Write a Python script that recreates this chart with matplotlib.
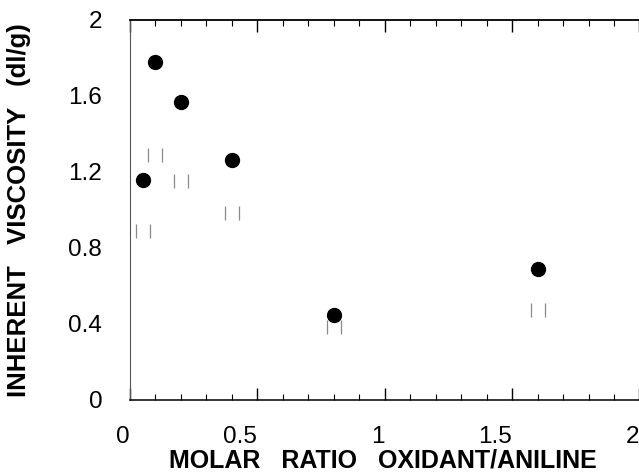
import matplotlib
matplotlib.use("Agg")
import matplotlib.pyplot as plt
from matplotlib.path import Path

plt.rcParams['font.family'] = ['Liberation Sans', 'DejaVu Sans']

# Data
ratio_circles = [0.05, 0.10, 0.20, 0.40, 0.80, 1.60]
visc_circles = [1.16, 1.78, 1.57, 1.265, 0.45, 0.69]

ratio_squares = [0.05, 0.10, 0.20, 0.40, 0.80, 1.60]
visc_squares = [0.89, 1.29, 1.155, 0.985, 0.385, 0.475]

x_ticks = [0, 0.5, 1, 1.5, 2]
x_ticklabels = ['0', '0.5', '1', '1.5', '2']
y_ticks = [0, 0.4, 0.8, 1.2, 1.6, 2]
y_ticklabels = ['0', '0.4', '0.8', '1.2', '1.6', '2']

W, H = 639, 472
fig = plt.figure(figsize=(W / 100, H / 100), dpi=100)
ax = fig.add_axes([130 / W, 72 / H, 509.5 / W, 380 / H])

# open square drawn as two faint vertical sides (as in the scanned figure)
sq_path = Path([(-1, -1), (-1, 1), (1, -1), (1, 1)],
               [Path.MOVETO, Path.LINETO, Path.MOVETO, Path.LINETO])

ax.plot(ratio_squares, visc_squares, linestyle='none', marker=sq_path,
        markersize=9.5, markeredgecolor='#8a8a8a', markeredgewidth=0.9,
        markerfacecolor='none', clip_on=False)
ax.plot(ratio_circles, visc_circles, linestyle='none', marker='o',
        markersize=10, color='black', clip_on=False)

ax.set_xlim(0, 2)
ax.set_ylim(0, 2)
ax.set_xticks(x_ticks)
ax.set_xticklabels(x_ticklabels)
ax.set_yticks(y_ticks)
ax.set_yticklabels(y_ticklabels)
ax.set_xticks([i / 10 for i in range(21)], minor=True)

ax.tick_params(axis='x', which='major', direction='in', length=8.5, width=1,
               top=True, bottom=True, labelsize=17.5, pad=19)
ax.tick_params(axis='x', which='minor', direction='in', length=4, width=0.8,
               top=True, bottom=True)
ax.tick_params(axis='y', which='major', direction='in', length=0,
               labelsize=17.5, pad=20)
for lbl in ax.get_xticklabels():
    lbl.set_horizontalalignment('right')

ax.spines['right'].set_visible(False)
ax.spines['top'].set_linewidth(1.3)
ax.spines['bottom'].set_linewidth(1.1)
ax.spines['left'].set_linewidth(0.8)
ax.spines['left'].set_color('#555555')

fig.text(383 / W, 1 - 467 / H, 'MOLAR   RATIO   OXIDANT/ANILINE',
         ha='center', va='baseline', fontsize=18, fontweight='bold')
fig.text(19 / W, 1 - 210 / H, 'INHERENT   VISCOSITY   (dl/g)',
         ha='center', va='center', rotation=90, fontsize=18.5,
         fontweight='bold')

fig.savefig('out.png', dpi=100)
